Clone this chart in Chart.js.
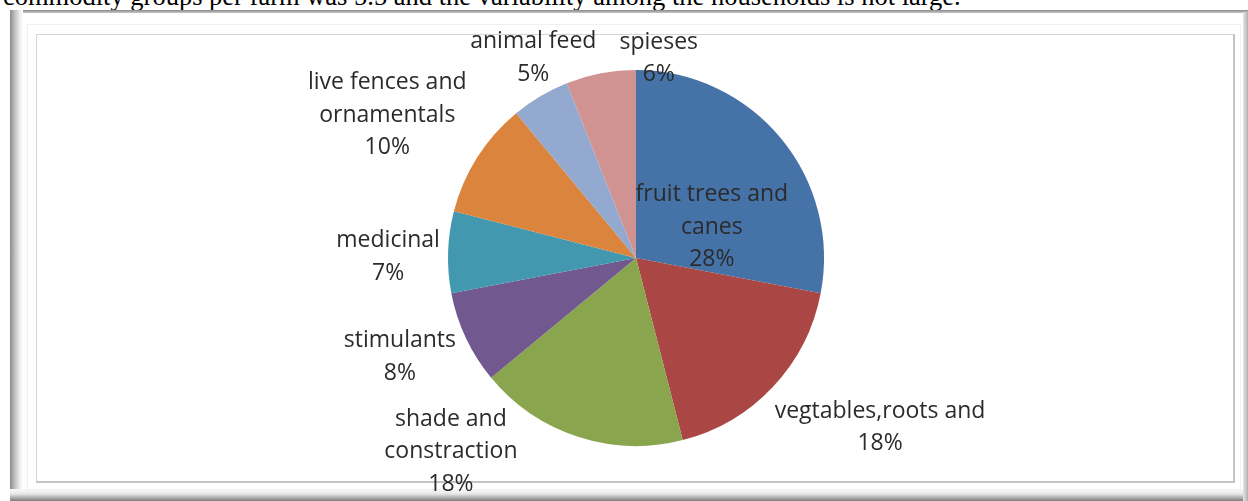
<!DOCTYPE html>
<html>
<head>
<meta charset="utf-8">
<script src="https://cdn.jsdelivr.net/npm/chart.js@4"></script>
<style>
  html, body { margin: 0; padding: 0; background: #fff; }
  #wrap { position: relative; width: 1248px; height: 501px; overflow: hidden; background: #fff; }
  #caption { position: absolute; left: 3px; top: -17px; font-family: "Liberation Serif", "DejaVu Serif", serif; font-size: 26.5px; line-height: 26.5px; color: #000; white-space: nowrap; }
  #frameTop { position: absolute; left: 10px; top: 10px; width: 1238px; height: 3px; background: linear-gradient(#8a8a8a, #c8c8c8); }
  #frameLeft { position: absolute; left: 10px; top: 10px; width: 13px; height: 491px; background: linear-gradient(90deg, #8c8c8c, #bdbdbd 35%, #ececec 75%, #fff); }
  #frameBottom { position: absolute; left: 10px; top: 489px; width: 1238px; height: 12px; background: linear-gradient(#fafafa, #e8e8e8 40%, #a0a0a0 80%, #7a7a7a); }
  #frameRight { position: absolute; left: 1243px; top: 12px; width: 5px; height: 489px; background: linear-gradient(90deg, #e6e6e6, #b0b0b0); }
  #frameInner2 { position: absolute; left: 27px; top: 24px; width: 1212px; height: 464px; border: 1px solid #f0f0f0; }
  #frameInner { position: absolute; left: 36px; top: 34px; width: 1196px; height: 446px; border: 1px solid #d4d4d4; border-right: 2px solid #c4c4c4; border-bottom: 2px solid #c4c4c4; }
  #c { position: absolute; left: 0; top: 0; }
</style>
</head>
<body>
<div id="wrap">
  <div id="caption">commodity groups per farm was 5.5 and the variability among the households is not large.</div>
  <div id="frameTop"></div>
  <div id="frameLeft"></div>
  <div id="frameBottom"></div>
  <div id="frameRight"></div>
  <div id="frameInner2"></div>
  <div id="frameInner"></div>
  <canvas id="c" width="1248" height="501"></canvas>
</div>
<script>
// ---- data ----
const categories = ["fruit trees and canes", "vegtables,roots and", "shade and constraction", "stimulants", "medicinal", "live fences and ornamentals", "animal feed", "spieses"];
const percentValues = [28, 18, 18, 8, 7, 10, 5, 6];
const labelLines = [
  ["fruit trees and", "canes"],
  ["vegtables,roots and"],
  ["shade and", "constraction"],
  ["stimulants"],
  ["medicinal"],
  ["live fences and", "ornamentals"],
  ["animal feed"],
  ["spieses"]
];
const sliceColors = ["#4572A7", "#AA4643", "#89A54E", "#71588F", "#4198AF", "#DB843D", "#93A9CF", "#D19392"];
// label offsets (px) relative to the outer mid-point of each slice
const labelOffsets = [[-69, 89], [107, 41], [-127, 15], [-66, 19], [-60, 5], [-90, -42], [-7, -38], [58, -15]];

const labelPlugin = {
  id: 'sliceLabels',
  afterDatasetsDraw(chart) {
    const ctx = chart.ctx;
    const meta = chart.getDatasetMeta(0);
    ctx.save();
    ctx.font = '23px "Open Sans", "DejaVu Sans", sans-serif';
    ctx.fillStyle = '#2b2b2b';
    ctx.textAlign = 'center';
    ctx.textBaseline = 'middle';
    const lh = 32.5;
    meta.data.forEach((arc, i) => {
      const mid = (arc.startAngle + arc.endAngle) / 2;
      const ax = arc.x + Math.cos(mid) * arc.outerRadius + labelOffsets[i][0];
      const ay = arc.y + Math.sin(mid) * arc.outerRadius + labelOffsets[i][1];
      const lines = labelLines[i].concat([percentValues[i] + '%']);
      const y0 = ay - (lines.length - 1) * lh / 2;
      lines.forEach((t, k) => ctx.fillText(t, ax, y0 + k * lh));
    });
    ctx.restore();
  }
};

new Chart(document.getElementById('c'), {
  type: 'pie',
  data: {
    labels: categories,
    datasets: [{
      data: percentValues,
      backgroundColor: sliceColors,
      borderWidth: 0
    }]
  },
  options: {
    responsive: false,
    animation: false,
    layout: { padding: { left: 448, right: 424, top: 70, bottom: 55 } },
    plugins: { legend: { display: false }, tooltip: { enabled: false } }
  },
  plugins: [labelPlugin]
});
</script>
</body>
</html>
